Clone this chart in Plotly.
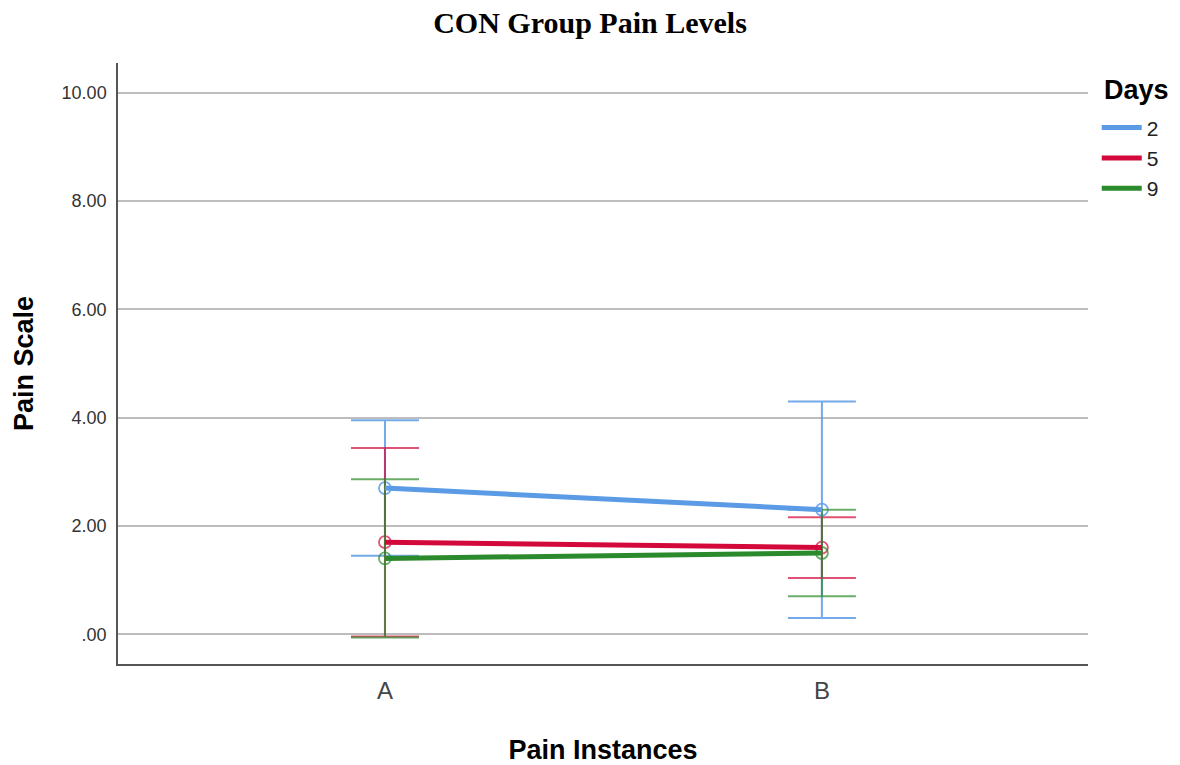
import plotly.graph_objects as go

categories = ["A", "B"]
days = ["2", "5", "9"]
means = {"2": [2.70, 2.30], "5": [1.70, 1.60], "9": [1.40, 1.50]}
errors = {"2": [1.25, 2.00], "5": [1.74, 0.56], "9": [1.46, 0.80]}
colors = {"2": "#5b9be6", "5": "#d2093a", "9": "#2b8a2b"}
err_colors = {"2": "rgba(91,155,230,0.85)", "5": "rgba(210,9,58,0.7)", "9": "rgba(43,138,43,0.7)"}

x_pos = list(range(len(categories)))
y_ticks = [0, 2, 4, 6, 8, 10]
y_tick_text = [".00", "2.00", "4.00", "6.00", "8.00", "10.00"]

fig = go.Figure()
for d in days:
    fig.add_trace(go.Scatter(
        x=x_pos, y=means[d], mode="markers",
        marker=dict(symbol="circle-open", size=12, color=err_colors[d], line=dict(width=1.8)),
        error_y=dict(type="data", array=errors[d], visible=True, color=err_colors[d],
                     thickness=2, width=34),
        showlegend=False, hoverinfo="skip"))
for d in days:
    fig.add_trace(go.Scatter(
        x=x_pos, y=means[d], mode="lines", name=d,
        line=dict(color=colors[d], width=5)))

fig.update_layout(
    width=1180, height=765,
    paper_bgcolor="white", plot_bgcolor="white",
    margin=dict(l=118, r=92, t=63, b=101),
    title=dict(text="<b>CON Group Pain Levels</b>", x=0.5, xanchor="center", y=1 - 22 / 765, yanchor="middle",
               font=dict(family="Liberation Serif, Times New Roman, serif", size=30, color="black")),
    font=dict(family="Liberation Sans, Arial, sans-serif", color="#222"),
    legend=dict(x=1.009, xanchor="left", y=0.926, yanchor="top",
                font=dict(size=21, color="#222"), tracegroupgap=0, itemwidth=40),
    annotations=[dict(text="<b>Days</b>", xref="paper", yref="paper", x=1.0145, xanchor="left",
                      y=1 - (90 - 63) / 601, yanchor="middle", showarrow=False,
                      font=dict(size=27, color="black"))],
    xaxis=dict(range=[-0.611, 1.609], tickmode="array", tickvals=x_pos, ticktext=categories,
               showgrid=False, zeroline=False, showline=True, linecolor="#555", linewidth=1.5,
               ticks="", tickfont=dict(size=24, color="#444"), ticklabelstandoff=4, automargin=False,
               title=dict(text="<b>Pain Instances</b>", font=dict(size=27, color="black"), standoff=46)),
    yaxis=dict(range=[-0.55, 10.55], tickmode="array", tickvals=y_ticks, ticktext=y_tick_text,
               showgrid=True, gridcolor="#bdbdbd", gridwidth=1.5, zeroline=False,
               showline=True, linecolor="#555", linewidth=1.5, ticks="", automargin=False,
               tickfont=dict(size=18, color="#333"), ticklabelstandoff=6,
               title=dict(text="<b>Pain Scale</b>", font=dict(size=27, color="black"), standoff=20)),
)

fig.write_html("out.html", config={"displayModeBar": False},
               post_script="document.body.style.margin='0px';document.body.style.overflow='hidden';")
